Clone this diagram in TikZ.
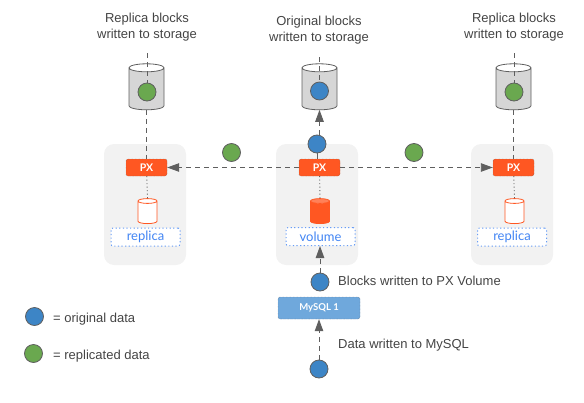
\documentclass[tikz,border=0pt]{standalone}
\usepackage{xcolor}
\usepackage{fontspec}
\setmainfont{Liberation Sans}
\newfontfamily\labelfont{Lato}
\usetikzlibrary{arrows.meta,shapes.geometric}
\definecolor{pxorange}{HTML}{FF5722}
\definecolor{panelgray}{HTML}{F2F2F2}
\definecolor{datablue}{HTML}{3D85C6}
\definecolor{datagreen}{HTML}{6AA84F}
\definecolor{sqlblue}{HTML}{6FA8DC}
\definecolor{labelblue}{HTML}{4285F4}
\definecolor{inkgray}{HTML}{5F5F5F}
\definecolor{textgray}{HTML}{444444}

\newcommand{\storeends}{\rule{5pt}{5pt}}
\newcommand{\diskends}{\rule{3pt}{3pt}}

\tikzset{
  panel/.style={fill=panelgray,rounded corners=10pt,minimum width=82pt,minimum height=121pt,inner sep=0pt},
  pxbox/.style={fill=pxorange,draw=inkgray,densely dotted,line width=0.4pt,rounded corners=2pt,minimum width=41pt,minimum height=17pt,inner sep=0pt,text=white,font=\labelfont\bfseries\fontsize{10.5}{12}\selectfont},
  sqlbox/.style={fill=sqlblue,draw=inkgray,densely dotted,line width=0.4pt,rounded corners=2pt,minimum width=82pt,minimum height=22pt,inner sep=0pt,text=white,font=\labelfont\bfseries\fontsize{9.5}{12}\selectfont},
  tagbox/.style={fill=white,draw=labelblue!80,dash pattern=on 1.2pt off 2.4pt,line width=1pt,rounded corners=2pt,minimum width=69pt,minimum height=18pt,inner sep=0pt,text=labelblue,font=\labelfont\fontsize{13}{15}\selectfont},
  store/.style={cylinder,shape border rotate=90,shape aspect=1.6,draw=inkgray,line width=0.8pt,cylinder uses custom fill,cylinder body fill=black!16,cylinder end fill=white,minimum width=35pt,minimum height=46pt,inner sep=0pt,outer sep=0pt,text opacity=0},
  disk/.style={cylinder,shape border rotate=90,shape aspect=1.6,draw=pxorange,line width=0.8pt,cylinder uses custom fill,cylinder body fill=white,cylinder end fill=white,minimum width=19pt,minimum height=25pt,inner sep=0pt,outer sep=0pt,text opacity=0},
  diskfull/.style={disk,cylinder body fill=pxorange,cylinder end fill=pxorange!75},
  orig/.style={circle,fill=datablue,draw=inkgray,line width=0.8pt,minimum size=18pt,inner sep=0pt},
  repl/.style={circle,fill=datagreen,draw=inkgray,line width=0.8pt,minimum size=18pt,inner sep=0pt},
  txt/.style={text=textgray,font=\fontsize{13}{16}\selectfont,align=center,inner sep=0pt},
  flow/.style={draw=inkgray,line width=0.9pt,dash pattern=on 5pt off 4pt},
  flowtip/.style={flow,-{Triangle[length=12pt,width=8.5pt,fill=inkgray]}},
  link/.style={draw=inkgray,line width=0.9pt,dash pattern=on 1pt off 2.5pt}
}

\begin{document}
\begin{tikzpicture}[x=1pt,y=-1pt]
  \useasboundingbox (0,0) rectangle (584,402);

  % panels
  \node[panel] (panelL) at (145,204.5) {};
  \node[panel] (panelM) at (317,204.5) {};
  \node[panel] (panelR) at (512,204.5) {};

  % storage
  \node[store] (storeL) at (146.5,89) {\storeends};
  \node[store] (storeM) at (319.5,89) {\storeends};
  \node[store] (storeR) at (513.5,89) {\storeends};

  % portworx
  \node[pxbox] (pxL) at (146.5,167.5) {PX};
  \node[pxbox] (pxM) at (319.5,167.5) {PX};
  \node[pxbox] (pxR) at (513.5,167.5) {PX};

  \node[disk] (diskL) at (147.5,212.5) {\diskends};
  \node[diskfull] (diskM) at (320,212.5) {\diskends};
  \node[disk] (diskR) at (514.5,212.5) {\diskends};
  \node[tagbox] (tagL) at (145.5,237) {replica};
  \node[tagbox] (tagM) at (320.5,236.5) {volume};
  \node[tagbox] (tagR) at (512,237) {replica};
  \node[sqlbox] (mysql) at (319,308) {MySQL 1};

  % data blocks
  \node[repl] (dotL) at (147,92) {};
  \node[orig] (dotM) at (319.5,91) {};
  \node[repl] (dotR) at (514,92) {};
  \node[orig] (dotUp) at (317,144) {};
  \node[repl] (dotA) at (231.5,152.5) {};
  \node[repl] (dotB) at (414,152.5) {};
  \node[orig] (dotVol) at (320,282) {};
  \node[orig] (dotIn) at (319,369) {};
  \node[orig] (keyA) at (34.5,316.5) {};
  \node[repl] (keyB) at (33.5,353.5) {};

  % free ends
  \coordinate (capL) at (147,53);
  \coordinate (capM) at (319.5,57);
  \coordinate (capR) at (514,53);

  \draw[flow] (capL) -- (dotL);
  \draw[flow] (capM) -- (dotM);
  \draw[flow] (capR) -- (dotR);
  \draw[flow] (storeL.bottom) -- (pxL);
  \draw[flow] (storeR.bottom) -- (pxR);
  \draw[flowtip] (dotUp.north -| storeM.bottom) -- (storeM.bottom);
  \draw[draw=inkgray,line width=0.9pt] (dotUp) -- (dotUp |- pxM.north);
  \draw[flowtip] (pxM) -- (pxL);
  \draw[flowtip] (pxM) -- (pxR);
  \draw[flowtip] (dotVol) -- (dotVol |- tagM.south);
  \draw[flowtip] (dotIn) -- (dotIn |- mysql.south);
  \draw[link] (pxL) -- (diskL.top);
  \draw[link] (pxM) -- (diskM.top);
  \draw[link] (pxR) -- (diskR.top);

  % labels
  \node[txt] (noteL) at (147,27) {Replica blocks\\written to storage};
  \node[txt] (noteM) at (319,30) {Original blocks\\written to storage};
  \node[txt] (noteR) at (514,27) {Replica blocks\\written to storage};
  \node[txt,anchor=west] (noteVol) at (338,281) {Blocks written to PX Volume};
  \node[txt,anchor=west] (noteIn) at (338,345) {Data written to MySQL};
  \node[txt,anchor=west] (keyTextA) at (53,319) {= original data};
  \node[txt,anchor=west] (keyTextB) at (53,356) {= replicated data};
\end{tikzpicture}
\end{document}
